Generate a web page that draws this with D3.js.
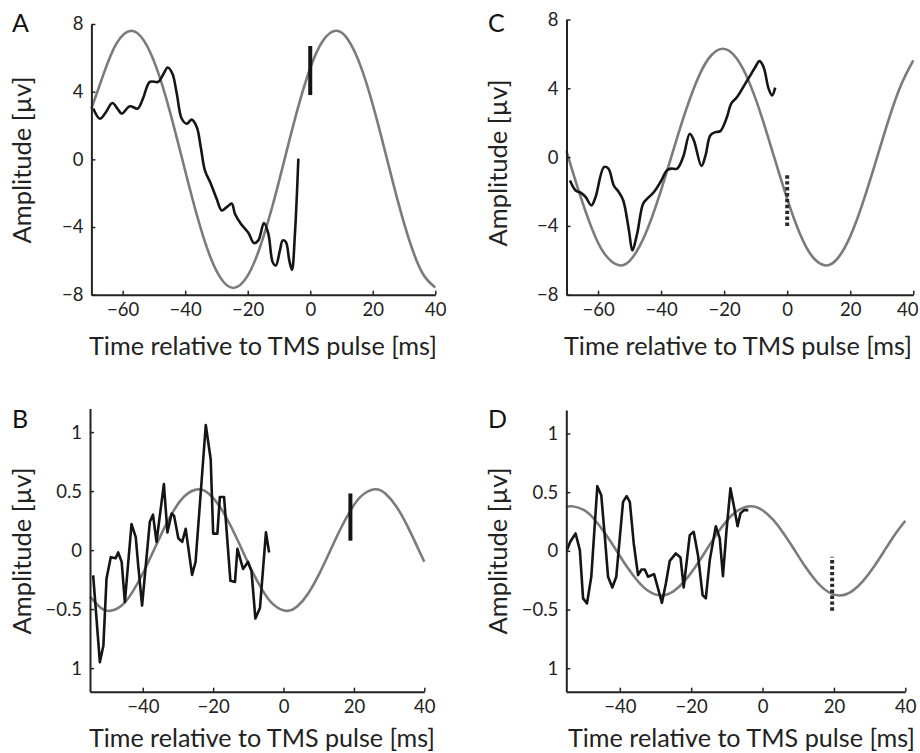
<!DOCTYPE html>
<html><head><meta charset="utf-8">
<script src="https://cdn.jsdelivr.net/npm/d3@7"></script>
<style>
html,body{margin:0;padding:0;background:#fff;}
svg{display:block;}
</style>
</head><body>
<svg id="chart" width="920" height="753"></svg>
<script>
// ---------- tick labels ----------
const ticksX_AC = [-60, -40, -20, 0, 20, 40];
const ticksY_AC = [-8, -4, 0, 4, 8];
const ticksX_BD = [-40, -20, 0, 20, 40];
const ticksY_BD = [-1, -0.5, 0, 0.5, 1];
const labelsY_BD = ["1", "\u22120.5", "0", "0.5", "1"];
const panelNames = ["A", "B", "C", "D"];
const xTitle = "Time relative to TMS pulse [ms]";
const yTitle = "Amplitude [\u00b5v]";

// ---------- Panel A ----------
const grayA_t = [-70,-66,-62,-57.3,-53,-49,-45,-41,-37,-33,-29,-24.6,-20,-16,-12,-8,-4,0,4,8.2,12,16,20,24,28,32,36,40];
const grayA_v = [3.0,5.1,6.84,7.6,6.96,5.32,2.9,0.05,-2.8,-5.25,-6.92,-7.6,-6.87,-5.15,-2.7,0.16,3.0,5.4,7.0,7.6,7.1,5.57,3.23,0.42,-2.45,-4.96,-6.76,-7.57];
const blackA_t = [-69.4,-67.3,-65.5,-63.3,-61.5,-60.3,-57.7,-55.2,-53.5,-51.3,-48.6,-47,-45.6,-44.1,-42.7,-41.1,-39.5,-37.9,-36.3,-35,-33.7,-31.8,-30,-28.3,-26.7,-25.1,-24.1,-22.2,-19.8,-18,-16.6,-14.8,-13.4,-12,-11,-9.7,-8.8,-7.8,-6.7,-5.85,-4.9,-3.8];
const blackA_v = [3.0,2.4,2.75,3.33,2.95,2.7,3.14,3.0,3.6,4.58,4.58,5.03,5.43,5.07,3.89,2.4,2.11,2.35,1.91,0.7,-0.65,-1.44,-2.3,-3.02,-2.82,-2.62,-3.21,-3.8,-4.34,-4.95,-4.79,-3.77,-4.4,-6.08,-6.27,-5.38,-4.79,-4.89,-5.98,-6.53,-4.4,0.04];
const markerA = {t: 0, v0: 3.8, v1: 6.7, dashed: false};

// ---------- Panel C ----------
const grayC_t = [-70,-66,-62,-58,-53.1,-49,-45,-41,-37,-33,-29,-25,-20.45,-16,-12,-8,-4,0,4,8,12.2,16,20,24,28,32,36,40];
const grayC_v = [0.35,-2.04,-4.13,-5.61,-6.3,-5.82,-4.48,-2.49,-0.13,2.24,4.28,5.71,6.3,5.73,4.33,2.3,-0.08,-2.43,-4.44,-5.79,-6.3,-5.89,-4.61,-2.65,-0.32,2.07,4.15,5.63];
const blackC_t = [-68.9,-67.1,-65.3,-63.9,-62.1,-60.8,-58.1,-56.7,-55,-53.4,-52,-50.2,-49.1,-47.6,-45.7,-44.4,-42.3,-40.2,-38.1,-36.8,-34.9,-33,-30.9,-29.6,-27.2,-25.9,-24.4,-22.8,-21.2,-19.1,-17.8,-15.9,-13.3,-11.7,-10.1,-8.8,-7.5,-5.9,-4.8,-3.8];
const blackC_v = [-1.36,-1.94,-2.09,-2.33,-2.81,-2.33,-0.58,-0.67,-1.65,-2.04,-2.52,-4.26,-5.43,-4.46,-2.71,-2.42,-2.04,-1.45,-0.77,-0.67,-0.67,0,1.36,0.97,-0.52,0.1,1.26,1.45,1.51,2.33,3.1,3.49,4.27,4.75,5.24,5.58,5.24,3.98,3.59,4.04];
const markerC = {t: 0, v0: -4.0, v1: -1.0, dashed: true};

// ---------- Panel B ----------
const grayB_t = [-55,-52,-49.4,-46,-43,-40,-37,-34,-31,-28,-24.3,-21,-18,-15,-12,-9,-6,-3,0.8,4,7,10,13,16,19,22,25.9,29,32,35,38,40];
const grayB_v = [-0.394,-0.488,-0.515,-0.469,-0.358,-0.198,-0.01,0.18,0.345,0.461,0.515,0.472,0.363,0.204,0.016,-0.174,-0.339,-0.458,-0.515,-0.474,-0.367,-0.21,-0.023,0.168,0.334,0.455,0.515,0.477,0.372,0.216,0.029,-0.099];
const blackB_t = [-54.1,-52.2,-51.2,-50.3,-49.1,-47.7,-47,-46,-45.1,-43.2,-42,-41.3,-40.2,-38,-37.1,-36.1,-34,-33,-31.8,-31.1,-29.9,-28.8,-27.8,-26,-25,-23.8,-22.1,-20.7,-20,-18.8,-18.1,-16.9,-15.1,-13.8,-13.1,-11.5,-10.1,-9.1,-8,-6.7,-5,-4.1];
const blackB_v = [-0.214,-0.95,-0.81,-0.24,-0.06,-0.07,-0.02,-0.10,-0.44,0.22,0.11,-0.13,-0.47,0.24,0.30,0.07,0.56,0.15,0.31,0.29,0.10,0.07,0.18,-0.21,-0.10,0.38,1.06,0.77,0.14,0.14,0.45,0.45,-0.26,-0.27,0.01,-0.16,-0.10,-0.18,-0.58,-0.49,0.15,-0.02];
const markerB = {t: 19, v0: 0.08, v1: 0.48, dashed: false};

// ---------- Panel D ----------
const grayD_t = [-55,-53.4,-50,-47,-44,-41,-38,-35,-32,-28.4,-25,-22,-19,-16,-13,-10,-7,-3.4,0,3,6,9,12,15,18,21.6,25,28,31,34,37,40];
const grayD_v = [0.372,0.38,0.346,0.263,0.144,0.005,-0.136,-0.257,-0.342,-0.38,-0.346,-0.263,-0.144,-0.005,0.136,0.257,0.342,0.38,0.346,0.263,0.144,0.005,-0.136,-0.257,-0.342,-0.38,-0.346,-0.263,-0.144,-0.005,0.136,0.257];
const blackD_t = [-54.8,-53.9,-52.4,-51.2,-50.3,-49.2,-48,-46.3,-45.2,-44.2,-43.3,-42.1,-41,-39.1,-38.1,-37.2,-36.1,-34.9,-33.9,-33,-32.1,-30.4,-29.3,-28.2,-27.1,-26,-24.3,-23,-22.1,-20.4,-19.3,-18.1,-16.8,-15.9,-14.8,-13.1,-12,-11.1,-10.1,-9,-8,-7,-6.2,-5.2,-4];
const blackD_v = [0.006,0.077,0.148,0.006,-0.405,-0.448,-0.221,0.551,0.474,0.119,-0.221,-0.312,-0.221,0.417,0.466,0.417,0.063,-0.207,-0.159,-0.159,-0.221,-0.198,-0.32,-0.443,-0.278,-0.085,-0.022,-0.056,-0.312,0.134,0.162,-0.037,-0.377,-0.405,-0.079,0.21,0.106,-0.215,0.176,0.532,0.375,0.21,0.319,0.347,0.347];
const markerD = {t: 19.5, v0: -0.51, v1: -0.05, dashed: true};

// ---------- drawing ----------
const svg = d3.select("#chart");
const FONT = "Lato, 'Open Sans', sans-serif";
const GRAY = "#7b7b7b", BLACK = "#151515", AXIS = "#222";

const zipPts = (t, v) => t.map((d, i) => [d, v[i]]);

function panel(cfg) {
  const x = d3.scaleLinear().domain(cfg.xDomain).range(cfg.xRange);
  const y = d3.scaleLinear().domain(cfg.yDomain).range(cfg.yRange);
  const g = svg.append("g");

  const gl = d3.line().x(d => x(d[0])).y(d => y(d[1])).curve(d3.curveNatural);
  g.append("path")
    .attr("d", gl(zipPts(cfg.grayT, cfg.grayV)))
    .attr("fill", "none").attr("stroke", GRAY).attr("stroke-width", 2.6);

  const bl = d3.line().x(d => x(d[0])).y(d => y(d[1])).curve(cfg.blackCurve);
  g.append("path")
    .attr("d", bl(zipPts(cfg.blackT, cfg.blackV)))
    .attr("fill", "none").attr("stroke", BLACK).attr("stroke-width", 2.6)
    .attr("stroke-linejoin", "round");

  const m = cfg.marker;
  g.append("line")
    .attr("x1", x(m.t)).attr("x2", x(m.t))
    .attr("y1", y(m.v0)).attr("y2", y(m.v1))
    .attr("stroke", m.dashed ? "#2a2a2a" : BLACK)
    .attr("stroke-width", 4)
    .attr("stroke-dasharray", m.dashed ? "3.4,2.5" : null);

  // axes
  const xa = d3.axisBottom(x).tickValues(cfg.xTicks).tickSizeInner(-4).tickSizeOuter(0).tickPadding(8)
    .tickFormat(d => d3.format("")(d).replace("-", "\u2212"));
  const gx = g.append("g").attr("transform", `translate(0,${cfg.yRange[0]})`).call(xa);
  const ya = d3.axisLeft(y).tickValues(cfg.yTicks).tickSizeInner(-4).tickSizeOuter(0).tickPadding(8)
    .tickFormat((d, i) => cfg.yLabels ? cfg.yLabels[i] : d3.format("")(d).replace("-", "\u2212"));
  const gy = g.append("g").attr("transform", `translate(${cfg.xRange[0]},0)`).call(ya);
  [gx, gy].forEach(a => {
    a.attr("font-family", FONT).attr("font-size", 18.5);
    a.select(".domain").attr("stroke", AXIS).attr("stroke-width", 2);
    a.selectAll(".tick line").attr("stroke", AXIS).attr("stroke-width", 1.5);
    a.selectAll(".tick text").attr("fill", "#222");
  });
  if (cfg.lastXLabelShift) {
    gx.selectAll(".tick text").filter((d, i, n) => i === n.length - 1).attr("dx", cfg.lastXLabelShift);
  }

  // titles
  g.append("text").text(xTitle)
    .attr("x", cfg.xTitleX).attr("y", cfg.xTitleY)
    .attr("font-family", FONT).attr("font-size", 25).attr("fill", "#222")
    .attr("textLength", cfg.xTitleW).attr("lengthAdjust", "spacingAndGlyphs");
  g.append("text").text(yTitle)
    .attr("transform", `translate(${cfg.yTitleX},${cfg.yTitleC}) rotate(-90)`)
    .attr("text-anchor", "middle")
    .attr("font-family", FONT).attr("font-size", 25).attr("fill", "#222")
    .attr("textLength", 167).attr("lengthAdjust", "spacingAndGlyphs");
  g.append("text").text(cfg.name)
    .attr("x", cfg.nameX).attr("y", cfg.nameY)
    .attr("font-family", FONT).attr("font-size", 25).attr("fill", "#111");
}

panel({name: panelNames[0], nameX: 12, nameY: 32,
  xDomain: [-70, 40], xRange: [91.4, 435.3], yDomain: [-8, 8], yRange: [294.7, 24],
  xTicks: ticksX_AC, yTicks: ticksY_AC,
  grayT: grayA_t, grayV: grayA_v, blackT: blackA_t, blackV: blackA_v, blackCurve: d3.curveCatmullRom.alpha(0.5),
  marker: markerA, xTitleX: 89, xTitleY: 355, xTitleW: 348, yTitleX: 31, yTitleC: 160});

panel({name: panelNames[2], nameX: 488, nameY: 32,
  xDomain: [-70, 40], xRange: [566.5, 913.3], yDomain: [-8, 8], yRange: [294.7, 19.5],
  xTicks: ticksX_AC, yTicks: ticksY_AC, lastXLabelShift: -6,
  grayT: grayC_t, grayV: grayC_v, blackT: blackC_t, blackV: blackC_v, blackCurve: d3.curveCatmullRom.alpha(0.5),
  marker: markerC, xTitleX: 564, xTitleY: 355, xTitleW: 348, yTitleX: 507, yTitleC: 163});

panel({name: panelNames[1], nameX: 12, nameY: 428,
  xDomain: [-55, 40], xRange: [90, 424.3], yDomain: [-1.2, 1.2], yRange: [691.7, 408.5],
  xTicks: ticksX_BD, yTicks: ticksY_BD, yLabels: labelsY_BD,
  grayT: grayB_t, grayV: grayB_v, blackT: blackB_t, blackV: blackB_v, blackCurve: d3.curveLinear,
  marker: markerB, xTitleX: 89, xTitleY: 747, xTitleW: 346, yTitleX: 31, yTitleC: 551});

panel({name: panelNames[3], nameX: 488, nameY: 428,
  xDomain: [-55, 40], xRange: [566.3, 905.3], yDomain: [-1.2, 1.2], yRange: [691.7, 410],
  xTicks: ticksX_BD, yTicks: ticksY_BD, yLabels: labelsY_BD,
  grayT: grayD_t, grayV: grayD_v, blackT: blackD_t, blackV: blackD_v, blackCurve: d3.curveLinear,
  marker: markerD, xTitleX: 568, xTitleY: 747, xTitleW: 347, yTitleX: 507, yTitleC: 551});
</script>
</body></html>
